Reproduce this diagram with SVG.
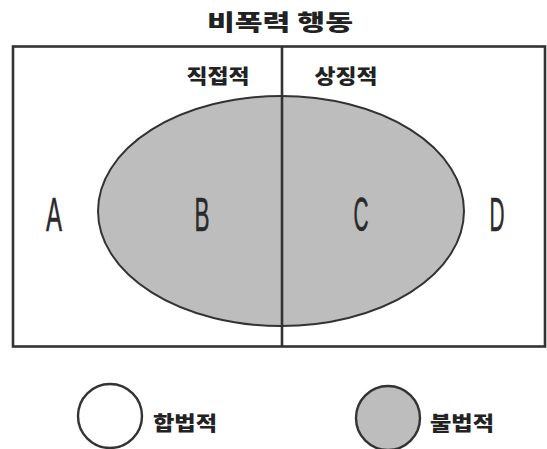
<svg xmlns="http://www.w3.org/2000/svg" width="547" height="449" viewBox="0 0 547 449">
<style>
.ko{font-family:"Noto Sans CJK KR","Noto Sans",sans-serif;font-weight:900;fill:#222;text-anchor:middle;dominant-baseline:central}
.lt{font-family:"Liberation Sans",Arial,sans-serif;font-size:48px;fill:#2a2a2a;stroke:#2a2a2a;stroke-width:0.6;text-anchor:middle}
.ln{stroke:#333;stroke-width:2.6;fill:none}
.set{fill:#bdbdbd;stroke:#333;stroke-width:2}
</style>
<rect width="547" height="449" fill="#ffffff"/>
<text class="ko" x="280" y="20" font-size="22" textLength="146" lengthAdjust="spacingAndGlyphs">비폭력 행동</text>
<g id="frame">
<rect class="ln" x="13" y="46.5" width="532" height="300"/>
</g>
<g id="illegal-set">
<ellipse class="set" cx="281" cy="211" rx="183" ry="115"/>
</g>
<g id="connectors">
<line class="ln" x1="282" y1="46.5" x2="282" y2="346.5"/>
</g>
<g id="direct"><text class="ko" x="218" y="75" font-size="20" textLength="63" lengthAdjust="spacingAndGlyphs">직접적</text></g>
<g id="symbolic"><text class="ko" x="346" y="75" font-size="20" textLength="63" lengthAdjust="spacingAndGlyphs">상징적</text></g>
<g id="A"><text class="lt" x="54" y="231" textLength="16" lengthAdjust="spacingAndGlyphs">A</text></g>
<g id="B"><text class="lt" x="202" y="231" textLength="15" lengthAdjust="spacingAndGlyphs">B</text></g>
<g id="C"><text class="lt" x="361" y="231" textLength="15" lengthAdjust="spacingAndGlyphs">C</text></g>
<g id="D"><text class="lt" x="497" y="231" textLength="15" lengthAdjust="spacingAndGlyphs">D</text></g>
<g id="legend-legal">
<circle cx="110" cy="416" r="32" fill="#ffffff" stroke="#333" stroke-width="2.4"/>
<text class="ko" x="185" y="422" font-size="20" textLength="64" lengthAdjust="spacingAndGlyphs">합법적</text>
</g>
<g id="legend-illegal">
<circle cx="388" cy="418" r="32" fill="#bdbdbd" stroke="#333" stroke-width="2.4"/>
<text class="ko" x="462" y="422" font-size="20" textLength="64" lengthAdjust="spacingAndGlyphs">불법적</text>
</g>
</svg>
